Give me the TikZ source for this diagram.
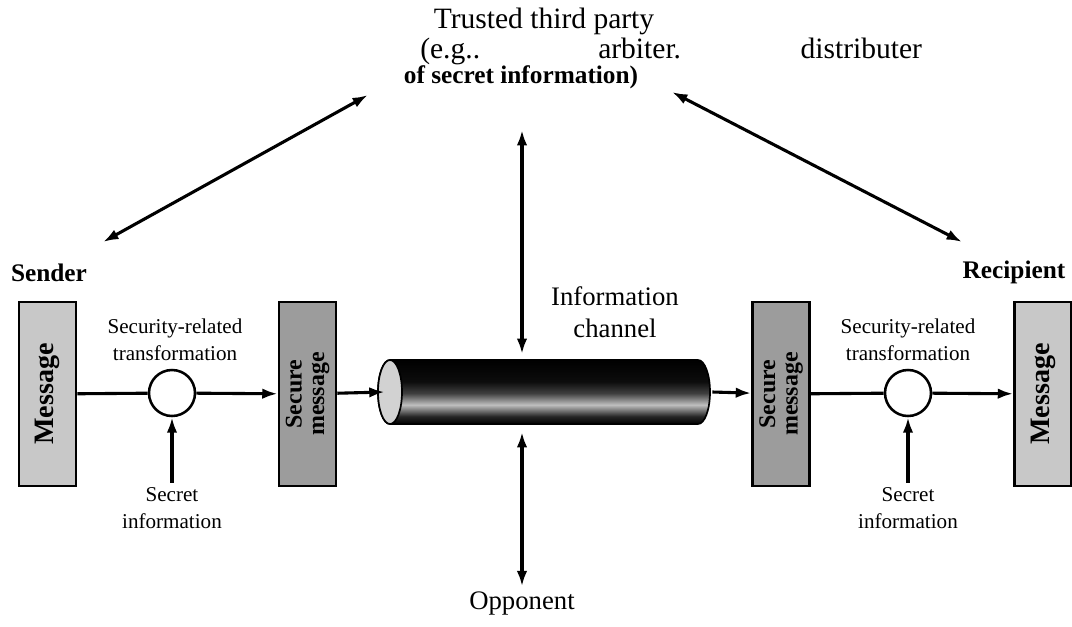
\documentclass[tikz,border=0pt]{standalone}
\usepackage{fontspec}
\setmainfont{Liberation Serif}
\usetikzlibrary{arrows.meta,positioning}
\definecolor{msgGray}{HTML}{C8C8C8}
\definecolor{secGray}{HTML}{9C9C9C}
\definecolor{capGray}{HTML}{D2D2D2}
\pgfdeclareverticalshading{tubeShade}{100bp}{color(0bp)=(black); color(25bp)=(black);
  color(31bp)=(black!85); color(40bp)=(black!25); color(49bp)=(black!75);
  color(58bp)=(black!95); color(75bp)=(black); color(100bp)=(black)}

\begin{document}
\begin{tikzpicture}[x=0.025cm,y=-0.025cm,
    link/.style={line width=2.2pt},
    tip/.style={-{Latex[length=11pt,width=7.5pt]}},
    both/.style={{Latex[length=11pt,width=7.5pt]}-{Latex[length=11pt,width=7.5pt]}},
    msgbox/.style={draw,line width=1.8pt,fill=msgGray,minimum width=1.425cm,
                   minimum height=4.6cm,inner sep=0pt,
                   font=\fontsize{20}{22}\selectfont\bfseries},
    secbox/.style={msgbox,fill=secGray,font=\fontsize{17}{19}\selectfont\bfseries},
    xform/.style={circle,draw,line width=1.8pt,fill=white,minimum size=1.15cm,inner sep=0pt},
    small/.style={font=\fontsize{15}{19}\selectfont,align=center},
    party/.style={font=\fontsize{18}{20}\selectfont\bfseries}]

  \useasboundingbox (0,0) rectangle (1072,626);

  % trusted third party
  \node[font=\fontsize{21}{24}\selectfont] (ttp) at (544,21) {Trusted third party};
  \node[font=\fontsize{21}{24}\selectfont,anchor=west,inner sep=0pt] (ttp2) at (420,51)
    {(e.g..\hspace{84pt}arbiter.\hspace{85pt}distributer};
  \node[font=\fontsize{18}{20}\selectfont\bfseries] (ttp3) at (521,77) {of secret information)};

  \node[party] (snd) at (49,273) {Sender};
  \node[party] (rcp) at (1014,272) {Recipient};

  % sender side
  \node[msgbox] (msgL) at (47.5,394) {\rotatebox{90}{Message}};
  \node[xform] (trL) at (172,393) {};
  \node[secbox] (secL) at (307.5,394)
    {\rotatebox{90}{\begin{tabular}{@{}c@{}}Secure\\[-3pt]message\end{tabular}}};
  \node[small] (xfL) at (175,340) {Security-related\\transformation};
  \node[small] (keyL) at (172,508) {Secret\\information};

  % recipient side
  \node[secbox] (secR) at (781,394)
    {\rotatebox{90}{\begin{tabular}{@{}c@{}}Secure\\[-3pt]message\end{tabular}}};
  \node[xform] (trR) at (908,393) {};
  \node[msgbox] (msgR) at (1043,394) {\rotatebox{90}{Message}};
  \node[small] (xfR) at (908,340) {Security-related\\transformation};
  \node[small] (keyR) at (908,508) {Secret\\information};

  % channel
  \node[minimum width=8.175cm,minimum height=1.6cm,inner sep=0pt] (chan) at (548.5,392) {};
  \shade[shading=tubeShade,draw,line width=1.2pt]
    (390,360) -- (698,360) arc[start angle=-90,end angle=90,x radius=12,y radius=32]
    -- (390,424) arc[start angle=90,end angle=270,x radius=12,y radius=32] -- cycle;
  \filldraw[fill=capGray,line width=1.2pt] (390,392) ellipse[x radius=12,y radius=32];
  \node[font=\fontsize{19}{23}\selectfont,align=center] (chanlbl) at (615,312) {Information\\channel};
  \node[font=\fontsize{19}{22}\selectfont] (opp) at (522,603) {Opponent};

  \coordinate (ttpFoot) at (522,130);
  \coordinate (chanTop) at (522,354);
  \coordinate (chanFoot) at (522,432);
  \coordinate (ttpL) at (368,95);
  \coordinate (sndTop) at (103,242);
  \coordinate (ttpR) at (672,92);
  \coordinate (rcpTop) at (962,242);

  \draw[link] (msgL) -- (trL);
  \draw[link,tip] (trL) -- (secL);
  \draw[link,tip] (secL) -- (chan.west);
  \draw[link,tip] (chan.east) -- (secR);
  \draw[link] (secR) -- (trR);
  \draw[link,tip] (trR) -- (msgR);
  \draw[link,tip] (keyL) -- (trL);
  \draw[link,tip] (keyR) -- (trR);

  \draw[link,both] (ttpFoot) -- (chanTop);
  \draw[link,both] (chanFoot) -- (opp);
  \draw[link,both] (ttpL) -- (sndTop);
  \draw[link,both] (ttpR) -- (rcpTop);
\end{tikzpicture}
\end{document}
